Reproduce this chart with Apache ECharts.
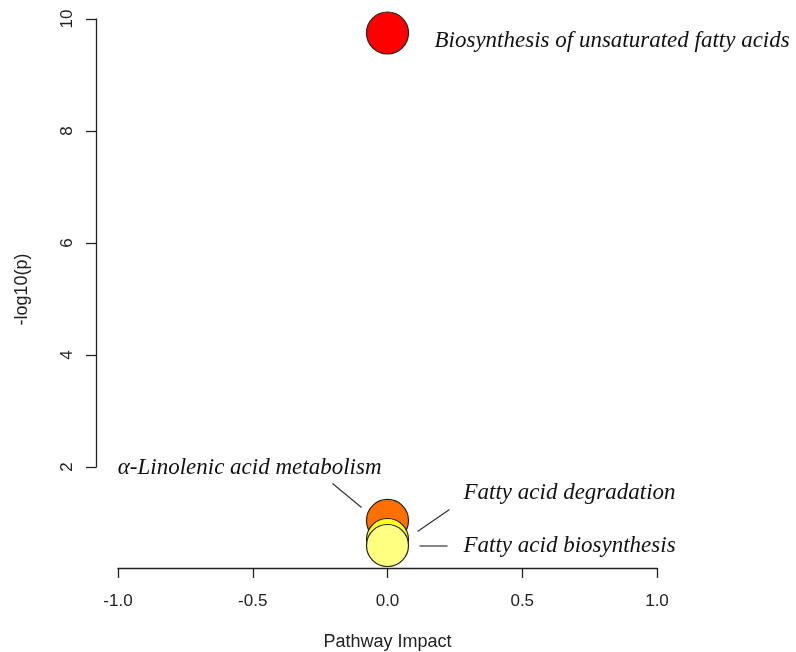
<!DOCTYPE html>
<html>
<head>
<meta charset="utf-8">
<script src="https://cdn.jsdelivr.net/npm/echarts@6/dist/echarts.min.js"></script>
<style>html,body{margin:0;padding:0;background:#fff;}#c{width:796px;height:652px;}</style>
</head>
<body>
<div id="c"></div>
<script>
// Data
const pathways = ['Biosynthesis of unsaturated fatty acids', 'α-Linolenic acid metabolism', 'Fatty acid degradation', 'Fatty acid biosynthesis'];
const impact = [0, 0, 0, 0];
const negLogP = [9.75, 1.045, 0.705, 0.598];
const colors = ['#FF0000', '#FF7000', '#FFFF1A', '#FFFF80'];
const xTicks = [-1.0, -0.5, 0.0, 0.5, 1.0];
const yTicks = [2, 4, 6, 8, 10];

// Label style (offsets relative to point centre)
const labelStyle = [
  { align: 'left', offset: [47, 8] },
  { align: 'right', offset: [-6, -53] },
  { align: 'left', offset: [76, -47] },
  { align: 'left', offset: [76, 0] }
];
const leaders = [
  null,
  [[-55, -37], [-26, -13]],
  [[30, -8], [62, -30]],
  [[32, 0.5], [60, 0.5]]
];

const axisColor = '#222';
const chart = echarts.init(document.getElementById('c'), null, { renderer: 'canvas' });

const points = pathways.map((p, i) => ({
  name: p,
  value: [impact[i], negLogP[i]],
  itemStyle: { color: colors[i] },
  label: {
    show: true,
    position: 'inside',
    formatter: p,
    align: labelStyle[i].align,
    verticalAlign: 'middle',
    offset: labelStyle[i].offset,
    fontFamily: 'Liberation Serif',
    fontStyle: 'italic',
    fontSize: 23,
    color: '#111'
  }
}));

chart.setOption({
  animation: false,
  grid: [
    { left: 96, right: 117, top: 11, bottom: 84, containLabel: false, outerBoundsMode: 'none' },
    { left: 118, right: 139, bottom: 84, height: 20, containLabel: false, outerBoundsMode: 'none' },
    { left: 96, width: 20, top: 19, bottom: 185, containLabel: false, outerBoundsMode: 'none' }
  ],
  xAxis: [
    { gridIndex: 0, type: 'value', min: -1.08, max: 1.08,
      axisLine: { show: false }, axisTick: { show: false }, axisLabel: { show: false }, splitLine: { show: false },
      name: 'Pathway Impact', nameLocation: 'middle', nameGap: 65,
      nameTextStyle: { fontFamily: 'Liberation Sans', fontSize: 18, color: axisColor } },
    { gridIndex: 1, type: 'value', min: xTicks[0], max: xTicks[xTicks.length - 1], interval: 0.5,
      axisLine: { show: true, lineStyle: { color: axisColor, width: 1.3 } },
      axisTick: { show: true, inside: false, length: 10, lineStyle: { color: axisColor, width: 1.3 } },
      axisLabel: { show: true, margin: 25, fontFamily: 'Liberation Sans', fontSize: 17, color: axisColor,
        formatter: v => v.toFixed(1) },
      splitLine: { show: false } },
    { gridIndex: 2, type: 'value', show: false }
  ],
  yAxis: [
    { gridIndex: 0, type: 'value', min: 0.196, max: 10.143,
      axisLine: { show: false }, axisTick: { show: false }, axisLabel: { show: false }, splitLine: { show: false },
      name: '-log10(p)', nameLocation: 'middle', nameGap: 65, nameRotate: 90,
      nameTextStyle: { fontFamily: 'Liberation Sans', fontSize: 18, color: axisColor } },
    { gridIndex: 1, type: 'value', show: false },
    { gridIndex: 2, type: 'value', min: yTicks[0], max: yTicks[yTicks.length - 1], interval: 2,
      axisLine: { show: true, lineStyle: { color: axisColor, width: 1.3 } },
      axisTick: { show: true, inside: false, length: 10, lineStyle: { color: axisColor, width: 1.3 } },
      axisLabel: { show: true, rotate: 90, margin: 20, fontFamily: 'Liberation Sans', fontSize: 17, color: axisColor },
      splitLine: { show: false } }
  ],
  series: [
    {
      type: 'custom',
      xAxisIndex: 0, yAxisIndex: 0,
      data: pathways.map((p, i) => [impact[i], negLogP[i], i]),
      silent: true,
      z: 1,
      renderItem: function (params, api) {
        const idx = api.value(2);
        const seg = leaders[idx];
        if (!seg) return null;
        const c = api.coord([api.value(0), api.value(1)]);
        return {
          type: 'line',
          shape: { x1: c[0] + seg[0][0], y1: c[1] + seg[0][1], x2: c[0] + seg[1][0], y2: c[1] + seg[1][1] },
          style: { stroke: '#333', lineWidth: 1.2 }
        };
      }
    },
    {
      type: 'scatter',
      xAxisIndex: 0, yAxisIndex: 0,
      symbol: 'circle',
      symbolSize: 42,
      z: 2,
      itemStyle: { borderColor: '#222', borderWidth: 1.2, opacity: 1 },
      data: points
    }
  ]
});
</script>
</body>
</html>
